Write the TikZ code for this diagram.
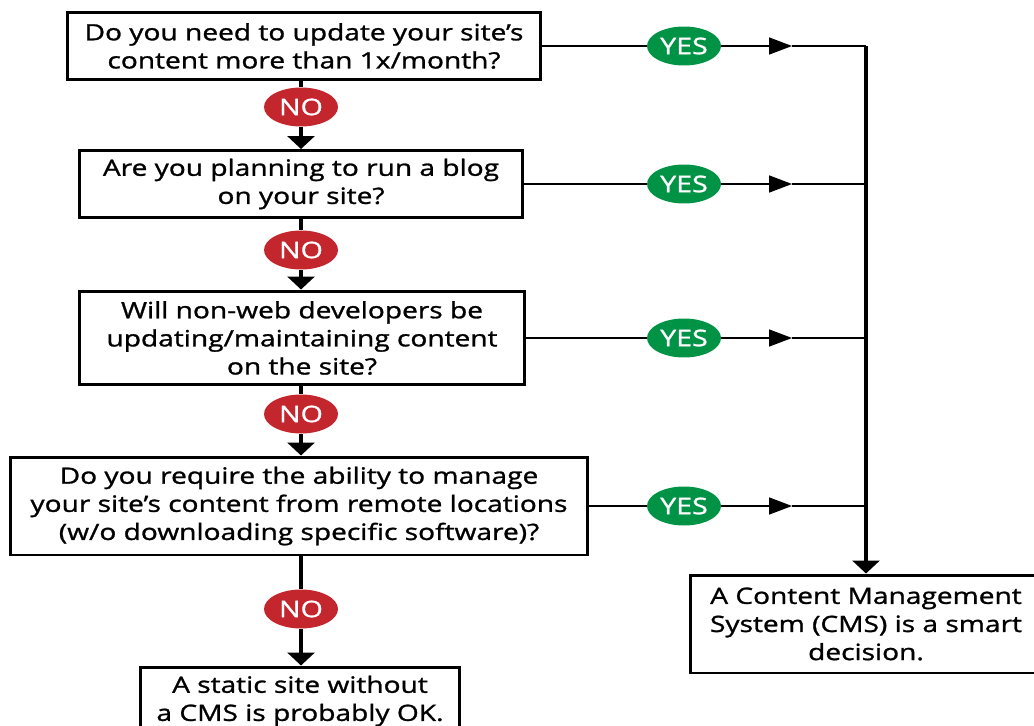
\documentclass[tikz,border=0pt]{standalone}
\usepackage{fontspec}
\setmainfont{Open Sans}[FakeStretch=1.25, FakeBold=1.2]
\usetikzlibrary{positioning, arrows.meta, shapes.geometric}
\definecolor{NoRed}{RGB}{196,38,46}
\definecolor{YesGreen}{RGB}{0,146,69}

\tikzset{
  qbox/.style={draw, line width=1.7pt, align=center, inner sep=0pt, fill=white,
    font=\fontsize{12.8}{16}\selectfont},
  nolabel/.style={ellipse, fill=NoRed, text=white, minimum width=1.48cm,
    minimum height=0.78cm, inner sep=0pt, font=\fontsize{13}{15}\selectfont},
  yeslabel/.style={nolabel, fill=YesGreen},
  vline/.style={line width=2.3pt},
  hline/.style={line width=0.9pt},
  downtip/.style={-{Triangle[width=5.4mm,length=2.6mm]}},
  yestip/.style={-{Triangle[width=3.4mm,length=4.6mm]}},
}

\begin{document}
\begin{tikzpicture}[x=0.02cm, y=-0.02cm]
  \useasboundingbox (0,0) rectangle (1034,726);
  \clip (0,0) rectangle (1034,726);

  % columns on the right
  \coordinate (yescol) at (684,0);
  \coordinate (tipcol) at (792,0);
  \coordinate (railcol) at (866,0);

  % questions
  \node[qbox, minimum width=9.48cm, minimum height=1.34cm] (q1) at (304,46)
    {Do you need to update your site’s\\content more than 1x/month?};
  \node[qbox, minimum width=8.88cm, minimum height=1.34cm] (q2) at (301,184)
    {Are you planning to run a blog\\on your site?};
  \node[qbox, minimum width=8.9cm, minimum height=1.88cm] (q3) at (302,338)
    {Will non-web developers be\\updating/maintaining content\\on the site?};
  \node[qbox, minimum width=11.56cm, minimum height=1.96cm] (q4) at (299,506)
    {Do you require the ability to manage\\your site’s content from remote locations\\(w/o downloading specific software)?};

  % answers
  \node[qbox, minimum width=6.4cm, minimum height=1.36cm] (static) at (300,701)
    {A static site without\\a CMS is probably OK.};
  \node[qbox, minimum width=7.04cm, minimum height=1.96cm] (cms) at (866,624)
    {A Content Management\\System (CMS) is a smart\\decision.};

  % NO branch
  \node[nolabel] (n1) at (301,107) {NO};
  \node[nolabel] (n2) at (301,250) {NO};
  \node[nolabel] (n3) at (301,414) {NO};
  \node[nolabel] (n4) at (301,609) {NO};

  \draw[vline] (n1 |- q1.south) -- (n1);
  \draw[vline, downtip] (n1) -- (n1 |- q2.north);
  \draw[vline] (n2 |- q2.south) -- (n2);
  \draw[vline, downtip] (n2) -- (n2 |- q3.north);
  \draw[vline] (n3 |- q3.south) -- (n3);
  \draw[vline, downtip] (n3) -- (n3 |- q4.north);
  \draw[vline] (n4 |- q4.south) -- (n4);
  \draw[vline, downtip] (n4) -- (n4 |- static.north);

  % YES branch
  \foreach \q/\y in {q1/y1, q2/y2, q3/y3, q4/y4} {
    \node[yeslabel] (\y) at (\q -| yescol) {YES};
    \draw[hline] (\q.east) -- (\y);
    \draw[hline, yestip] (\y) -- (\y -| tipcol);
    \draw[hline] (\y -| tipcol) -- (\y -| railcol);
  }
  \draw[vline, downtip] (q1 -| railcol) -- (cms.north);
\end{tikzpicture}
\end{document}
